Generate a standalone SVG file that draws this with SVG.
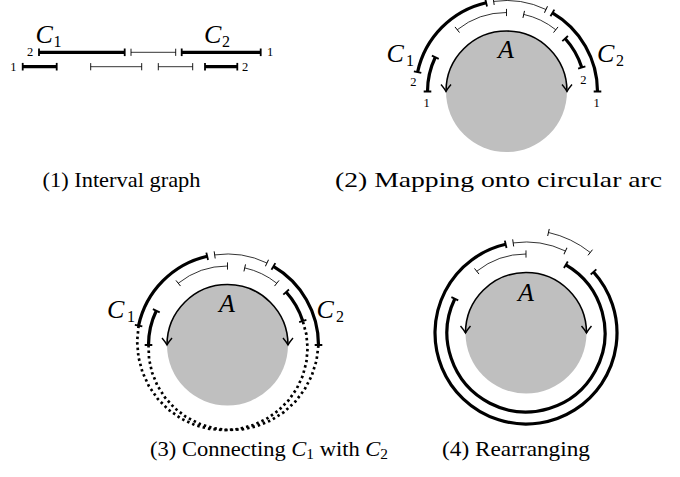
<svg xmlns="http://www.w3.org/2000/svg" width="680" height="477" viewBox="0 0 680 477">
<style>
.thick{stroke:#000;stroke-width:3.2;fill:none;marker-start:url(#barK);marker-end:url(#barK)}
.thin{stroke:#000;stroke-width:0.8;fill:none;marker-start:url(#barT);marker-end:url(#barT)}
.dot{stroke:#000;stroke-width:2.7;fill:none;stroke-dasharray:2.5 3}
.aarc{stroke:#000;stroke-width:1.6;fill:none;marker-start:url(#arrA);marker-end:url(#arrA)}
.disk{fill:#bfbfbf}
.math{font-family:"Liberation Serif",serif;font-style:italic;font-size:26px}
.sub{font-style:normal;font-size:16px}
.num{font-family:"Liberation Serif",serif;font-size:12.5px;text-anchor:middle}
.cap{font-family:"Liberation Serif",serif;font-size:22px}
.capsub{font-size:15px}
</style>
<defs>
<marker id="barK" markerUnits="userSpaceOnUse" orient="auto" overflow="visible" markerWidth="1" markerHeight="1"><line x1="0" y1="-3.8" x2="0" y2="3.8" stroke="#000" stroke-width="1.8"/></marker>
<marker id="barT" markerUnits="userSpaceOnUse" orient="auto" overflow="visible" markerWidth="1" markerHeight="1"><line x1="0" y1="-3.6" x2="0" y2="3.6" stroke="#000" stroke-width="0.9"/></marker>
<marker id="arrA" markerUnits="userSpaceOnUse" orient="auto-start-reverse" overflow="visible" markerWidth="1" markerHeight="1"><path d="M -7 -5 Q -2.5 -1.2 0 0 Q -2.5 1.2 -7 5" fill="none" stroke="#000" stroke-width="1.4"/></marker>
</defs>

<g id="panel1">
  <g id="p1-row1">
    <line class="thick" x1="39" y1="52.3" x2="124.7" y2="52.3"/>
    <line class="thin" x1="131" y1="52.3" x2="175.7" y2="52.3"/>
    <line class="thick" x1="181.7" y1="52.3" x2="260.7" y2="52.3"/>
  </g>
  <g id="p1-row2">
    <line class="thick" x1="22.7" y1="66.7" x2="56.7" y2="66.7"/>
    <line class="thin" x1="90.7" y1="66.7" x2="141.7" y2="66.7"/>
    <line class="thin" x1="158.3" y1="66.7" x2="192.7" y2="66.7"/>
    <line class="thick" x1="205" y1="66.7" x2="237.3" y2="66.7"/>
  </g>
  <g id="p1-labels">
    <text class="num" x="30" y="56.3">2</text>
    <text class="num" x="270" y="56.3">1</text>
    <text class="num" x="13.3" y="70.8">1</text>
    <text class="num" x="245" y="70.8">2</text>
    <text class="math" x="35.5" y="43">C<tspan class="sub" x="53.5" dy="4">1</tspan></text>
    <text class="math" x="204" y="43">C<tspan class="sub" x="222" dy="4">2</tspan></text>
  </g>
  <text class="cap" x="42.5" y="187" textLength="158" lengthAdjust="spacingAndGlyphs">(1) Interval graph</text>
</g>

<g id="panel2">
  <circle id="p2-A" class="disk" cx="506.5" cy="91.5" r="60.5"/>
  <g id="p2-arcs">
    <path class="aarc" d="M 446 91.5 A 60.5 60.5 0 0 1 567 91.5"/>
    <path class="thick" d="M 417.59 72.11 A 91 91 0 0 1 486.18 2.80"/>
    <path class="thin" d="M 493.68 1.41 A 91 91 0 0 1 545.96 9.50"/>
    <path class="thick" d="M 552.41 12.93 A 91 91 0 0 1 597.5 91.5"/>
    <path class="thick" d="M 427.5 91.5 A 79 79 0 0 1 435.31 57.24"/>
    <path class="thin" d="M 457.24 29.74 A 79 79 0 0 1 506.5 12.5"/>
    <path class="thin" d="M 523.73 14.40 A 79 79 0 0 1 555.78 29.75"/>
    <path class="thick" d="M 565.12 38.54 A 79 79 0 0 1 581.76 67.48"/>
  </g>
  <g id="p2-labels">
    <text class="math" x="506" y="58.3" text-anchor="middle">A</text>
    <text class="math" x="386.5" y="61.5">C<tspan class="sub" x="406" dy="4">1</tspan></text>
    <text class="math" x="597" y="61.5">C<tspan class="sub" x="616" dy="4">2</tspan></text>
    <text class="num" x="413.3" y="86.3">2</text>
    <text class="num" x="426.5" y="107">1</text>
    <text class="num" x="583.3" y="84">2</text>
    <text class="num" x="596.7" y="107">1</text>
  </g>
  <text class="cap" x="335" y="187" textLength="327" lengthAdjust="spacingAndGlyphs">(2) Mapping onto circular arc</text>
</g>

<g id="panel3">
  <circle id="p3-A" class="disk" cx="227.5" cy="345" r="60.5"/>
  <g id="p3-arcs">
    <path class="aarc" d="M 167 345 A 60.5 60.5 0 0 1 288 345"/>
    <path class="thick" d="M 138.59 325.61 A 91 91 0 0 1 207.18 256.30"/>
    <path class="thin" d="M 214.68 254.91 A 91 91 0 0 1 266.96 263.00"/>
    <path class="thick" d="M 273.41 266.43 A 91 91 0 0 1 318.5 345"/>
    <path class="thick" d="M 148.5 345 A 79 79 0 0 1 156.31 310.74"/>
    <path class="thin" d="M 178.24 283.24 A 79 79 0 0 1 227.5 266"/>
    <path class="thin" d="M 244.73 267.90 A 79 79 0 0 1 276.78 283.25"/>
    <path class="thick" d="M 286.12 292.04 A 79 79 0 0 1 302.76 320.98"/>
    <polyline class="dot" points="138.59,325.62 137.14,341.37 138.45,357.04 142.44,372.15 148.96,386.24 157.76,398.90 168.56,409.77 181.01,418.54 194.70,424.97 209.21,428.89 224.08,430.22 238.85,428.95 253.08,425.16 266.35,418.99 278.26,410.67 288.47,400.48 296.69,388.74 302.71,375.85 306.36,362.19 307.58,348.22 306.35,334.34 302.76,320.98"/>
    <polyline class="dot" points="148.5,345 149.04,358.83 152.01,372.47 157.35,385.5 164.94,397.5 174.58,408.07 186.0,416.88 198.88,423.62 212.86,428.05 227.5,430 242.38,429.37 257.03,426.12 271.0,420.34 283.85,412.16 295.16,401.78 304.58,389.5 311.76,375.67 316.46,360.69 318.5,345"/>
  </g>
  <g id="p3-labels">
    <text class="math" x="227" y="311.7" text-anchor="middle">A</text>
    <text class="math" x="107" y="318">C<tspan class="sub" x="127" dy="4">1</tspan></text>
    <text class="math" x="316.5" y="318">C<tspan class="sub" x="336" dy="4">2</tspan></text>
  </g>
  <text class="cap" x="150" y="456" textLength="238" lengthAdjust="spacingAndGlyphs">(3) Connecting <tspan font-style="italic">C</tspan><tspan class="capsub" dy="3">1</tspan><tspan dy="-3"> with </tspan><tspan font-style="italic">C</tspan><tspan class="capsub" dy="3">2</tspan></text>
</g>

<g id="panel4">
  <circle id="p4-A" class="disk" cx="526" cy="333" r="60.5"/>
  <g id="p4-arcs">
    <path class="aarc" d="M 465.5 333 A 60.5 60.5 0 0 1 586.5 333"/>
    <path class="thick" d="M 505.68 244.30 A 91 91 0 1 0 593.52 271.99"/>
    <path class="thick" d="M 565.86 264.79 A 79 79 0 1 1 454.81 298.74"/>
    <path class="thin" d="M 513.18 242.91 A 91 91 0 0 1 565.46 251.00"/>
    <path class="thin" d="M 476.74 271.24 A 79 79 0 0 1 526 254"/>
    <path class="thin" d="M 548.47 232.48 A 103 103 0 0 1 590.25 252.50"/>
  </g>
  <g id="p4-labels">
    <text class="math" x="526" y="300.7" text-anchor="middle">A</text>
  </g>
  <text class="cap" x="442" y="456" textLength="148" lengthAdjust="spacingAndGlyphs">(4) Rearranging</text>
</g>
</svg>
